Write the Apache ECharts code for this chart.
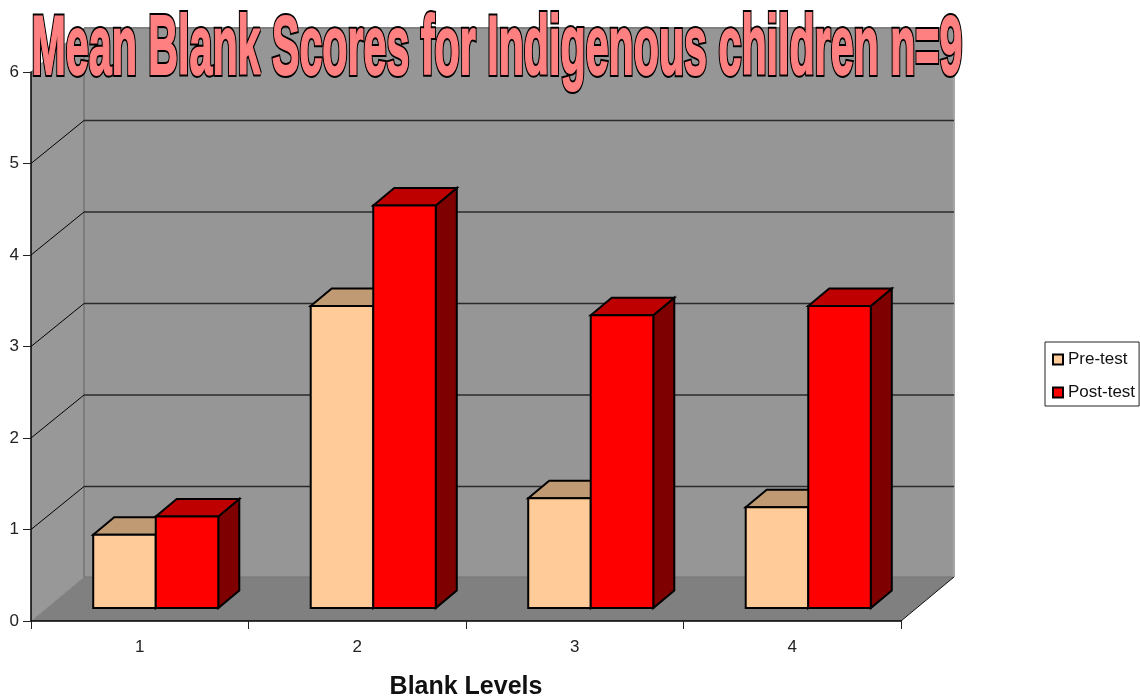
<!DOCTYPE html>
<html>
<head>
<meta charset="utf-8">
<style>html,body{margin:0;padding:0;background:#fff}#chart{width:1140px;height:698px}</style>
<script src="https://cdn.jsdelivr.net/npm/echarts@6/dist/echarts.min.js"></script>
</head>
<body>
<div id="chart"></div>
<script>
const chartTitle = 'Mean Blank Scores for Indigenous children n=9';
const categories = ['1', '2', '3', '4'];
const yTicks = [1, 2, 3, 4, 5, 6];
const preTest = [0.8, 3.3, 1.2, 1.1];
const postTest = [1.0, 4.4, 3.2, 3.3];

// Oblique projection: how far the back wall and the bar plane sit from the axis plane.
const ROOM_DX = 53, ROOM_DY = -44, GRID_DY = -43;
const BAR_DX = 16, BAR_DY = -13;
const DEPTH_DX = 21, DEPTH_DY = -17.5;
const BAR_SHARE = 0.2875;

const poly = (points, fill, stroke, lineWidth) => ({
  type: 'polygon',
  shape: { points },
  style: { fill, stroke: stroke || 'none', lineWidth: lineWidth || 0 }
});
const seg = (x1, y1, x2, y2, stroke, lineWidth) => ({
  type: 'line',
  shape: { x1, y1, x2, y2 },
  style: { stroke, lineWidth }
});

// Side wall, back wall and floor of the box behind the bars.
function renderRoom(params, api) {
  const c = params.coordSys;
  const l = c.x, r = c.x + c.width, t = c.y, b = c.y + c.height;
  const dx = ROOM_DX, dy = ROOM_DY;
  return {
    type: 'group',
    children: [
      poly([[l + dx, t + dy], [r + dx, t + dy], [r + dx, b + dy], [l + dx, b + dy]], '#969696'),
      poly([[l, t], [l + dx, t + dy], [l + dx, b + dy], [l, b]], '#989898'),
      poly([[l, b], [l + dx, b + dy], [r + dx, b + dy], [r, b]], '#808080'),
      seg(l + dx, t + dy, r + dx, t + dy, '#808080', 2),
      seg(l + dx, t + dy, l + dx, b + dy, '#7c7c7c', 2),
      seg(l + dx, b + dy, r + dx, b + dy, '#757575', 1),
      seg(r + dx, t + dy, r + dx, b + dy, '#a6a6a6', 2),
      seg(l, b, l + dx, b + dy, '#8c8c8c', 1),
      seg(r, b, r + dx, b + dy, '#111111', 1)
    ]
  };
}

// One gridline per tick, running over the side wall and along the back wall.
function renderGridline(params, api) {
  const c = params.coordSys;
  const value = api.value(0);
  const y = api.coord([0, value])[1];
  const l = c.x, r = c.x + c.width;
  if (value === yTicks[yTicks.length - 1]) {
    return { type: 'group', children: [seg(l, y, l + ROOM_DX, y + ROOM_DY, '#808080', 1)] };
  }
  return {
    type: 'group',
    children: [
      seg(l, y, l + ROOM_DX, y + GRID_DY, '#000000', 1),
      seg(l + ROOM_DX, y + GRID_DY, r + ROOM_DX, y + GRID_DY, '#2a2a2a', 1.5)
    ]
  };
}

// A box in the bar plane; side -1 sits left of the category centre, +1 right of it.
function boxRenderer(side, front, top, flank) {
  return function (params, api) {
    const cat = api.value(0);
    const head = api.coord([cat, api.value(1)]);
    const foot = api.coord([cat, 0]);
    const w = api.size([1, 0])[0] * BAR_SHARE;
    const x0 = head[0] + BAR_DX + (side < 0 ? -w : 0);
    const x1 = x0 + w;
    const yt = head[1] + BAR_DY;
    const yb = foot[1] + BAR_DY;
    const dx = DEPTH_DX, dy = DEPTH_DY;
    return {
      type: 'group',
      children: [
        poly([[x1, yt], [x1 + dx, yt + dy], [x1 + dx, yb + dy], [x1, yb]], flank, '#000', 2),
        poly([[x0, yt], [x0 + dx, yt + dy], [x1 + dx, yt + dy], [x1, yt]], top, '#000', 2),
        poly([[x0, yt], [x1, yt], [x1, yb], [x0, yb]], front, '#000', 2)
      ]
    };
  };
}

// Squeezed heading with a heavy outline: a black silhouette under a thickened pink face.
function titleLayer(fill, stroke, lineWidth, z) {
  return {
    type: 'text',
    x: 31.5,
    y: 93,
    scaleX: 0.4965,
    scaleY: 1,
    z,
    silent: true,
    style: {
      text: chartTitle,
      font: 'bold 83px "Liberation Sans"',
      fill,
      stroke,
      lineWidth,
      lineJoin: 'round',
      verticalAlign: 'bottom',
      textAlign: 'left'
    }
  };
}

const chart = echarts.init(document.getElementById('chart'));
chart.setOption({
  animation: false,
  backgroundColor: '#ffffff',
  grid: { left: 31, right: 239, top: 72, bottom: 77, outerBoundsMode: 'none' },
  legend: {
    data: ['Pre-test', 'Post-test'],
    orient: 'vertical',
    left: 1045,
    top: 342,
    padding: [9, 4, 5, 7],
    itemGap: 16,
    itemWidth: 10,
    itemHeight: 10,
    icon: 'rect',
    borderColor: '#222222',
    borderWidth: 1,
    backgroundColor: '#ffffff',
    selectedMode: false,
    textStyle: { fontFamily: 'Liberation Sans', fontSize: 17, color: '#111111' }
  },
  xAxis: {
    type: 'category',
    data: categories,
    z: 4,
    name: 'Blank Levels',
    nameLocation: 'middle',
    nameGap: 54,
    nameTextStyle: { fontFamily: 'Liberation Sans', fontSize: 25, fontWeight: 'bold', color: '#111111' },
    axisLine: { lineStyle: { color: '#000', width: 1.5 } },
    axisTick: { show: true, length: 8, lineStyle: { color: '#222', width: 1 } },
    axisLabel: { fontFamily: 'Liberation Sans', fontSize: 17, color: '#222222', margin: 18 },
    splitLine: { show: false }
  },
  yAxis: {
    type: 'value',
    min: 0,
    max: 6,
    interval: 1,
    z: 4,
    axisLine: { show: true, lineStyle: { color: '#000', width: 1.5 } },
    axisTick: { show: true, length: 8, lineStyle: { color: '#222', width: 1 } },
    axisLabel: { fontFamily: 'Liberation Sans', fontSize: 17, color: '#222222', margin: 12 },
    splitLine: { show: false }
  },
  series: [
    {
      name: 'room', type: 'custom', z: 1, silent: true, clip: false,
      renderItem: renderRoom, data: [[0, 0]], encode: { x: 0, y: 1 }
    },
    {
      name: 'gridlines', type: 'custom', z: 1, silent: true, clip: false,
      renderItem: renderGridline, data: yTicks.map(v => [v]), encode: { y: 0 }
    },
    {
      name: 'Pre-test', type: 'custom', z: 2, clip: false,
      renderItem: boxRenderer(-1, '#ffcc99', '#c09a73', '#806650'),
      itemStyle: { color: '#ffcc99', borderColor: '#000', borderWidth: 1.5 },
      data: categories.map((c, i) => [c, preTest[i]]),
      encode: { x: 0, y: 1 }
    },
    {
      name: 'Post-test', type: 'custom', z: 3, clip: false,
      renderItem: boxRenderer(1, '#ff0000', '#bf0000', '#7f0000'),
      itemStyle: { color: '#ff0000', borderColor: '#000', borderWidth: 1.5 },
      data: categories.map((c, i) => [c, postTest[i]]),
      encode: { x: 0, y: 1 }
    }
  ],
  graphic: [
    titleLayer('#000000', '#000000', 6, 10),
    titleLayer('#ff8080', '#ff8080', 2, 11)
  ]
});
</script>
</body>
</html>
